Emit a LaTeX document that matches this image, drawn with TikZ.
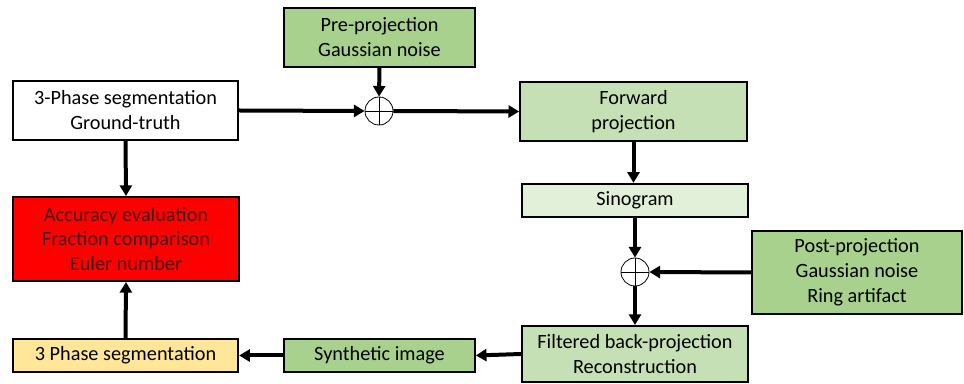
\documentclass[tikz,border=0pt]{standalone}
\usepackage{fontspec}
\setmainfont{Carlito}
\usepackage{xcolor}
\usetikzlibrary{arrows.meta}
\definecolor{midgreen}{HTML}{A9D18E}
\definecolor{lightgreen}{HTML}{C5E0B4}
\definecolor{palegreen}{HTML}{E2F0D9}
\definecolor{softyellow}{HTML}{FFE699}
\definecolor{darkred}{RGB}{70,20,20}
\begin{document}
\begin{tikzpicture}[x=0.75pt, y=-0.75pt, font=\fontsize{15.2}{18.7}\selectfont, align=center,
	box/.style={draw=black, line width=1.5pt, inner sep=0pt, minimum width=#1},
	flow/.style={line width=3pt, -{Triangle[length=8pt,width=9pt]}},
	sum/.style={circle, draw=black, line width=0.6pt, minimum size=21pt, inner sep=0pt,
		path picture={\draw[line width=0.6pt] (path picture bounding box.north) -- (path picture bounding box.south)
			(path picture bounding box.west) -- (path picture bounding box.east);}}]
 \useasboundingbox (0,0) rectangle (964,384);
 % top row
 \node[box=143pt, minimum height=44pt, fill=midgreen] (pre) at (379.5,37.5) {Pre-projection\\Gaussian noise};
 \node[box=169pt, minimum height=44pt, fill=white] (truth) at (125.5,110.5) {3-Phase segmentation\\Ground-truth};
 \node[sum] (sumpre) at (379,111) {};
 \node[box=170pt, minimum height=44pt, fill=lightgreen] (fwd) at (633.5,111.5) {Forward\\projection};
 % right column
 \node[box=169pt, minimum height=25pt, fill=palegreen] (sino) at (635,200.5) {Sinogram};
 \node[sum] (sumpost) at (635,272) {};
 \node[box=157pt, minimum height=62pt, fill=midgreen] (post) at (857,272.5) {Post-projection\\Gaussian noise\\Ring artifact};
 \node[box=169pt, minimum height=42pt, fill=lightgreen] (fbp) at (635,354) {Filtered back-projection\\Reconstruction};
 % bottom row and evaluation
 \node[box=143pt, minimum height=25pt, fill=midgreen] (synth) at (379.5,355.5) {Synthetic image};
 \node[box=169pt, minimum height=25pt, fill=softyellow] (seg) at (125.5,355.5) {3 Phase segmentation};
 \node[box=169pt, minimum height=63pt, fill=red, text=darkred] (eval) at (126,239) {Accuracy evaluation\\Fraction comparison\\Euler number};

 \draw[flow] (truth.east) -- (sumpre.west);
 \draw[flow] (pre.south) -- (sumpre.north);
 \draw[flow] (sumpre.east) -- (fwd.west);
 \draw[flow] (fwd.south) -- (fwd.south |- sino.north);
 \draw[flow] (sino.south) -- (sumpost.north);
 \draw[flow] (post.west) -- (sumpost.east);
 \draw[flow] (sumpost.south) -- (fbp.north);
 \draw[flow] (fbp.west) -- (synth.east);
 \draw[flow] (synth.west) -- (seg.east);
 \draw[flow] (seg.north) -- (eval.south);
 \draw[flow] (truth.south) -- (eval.north);
\end{tikzpicture}
\end{document}
